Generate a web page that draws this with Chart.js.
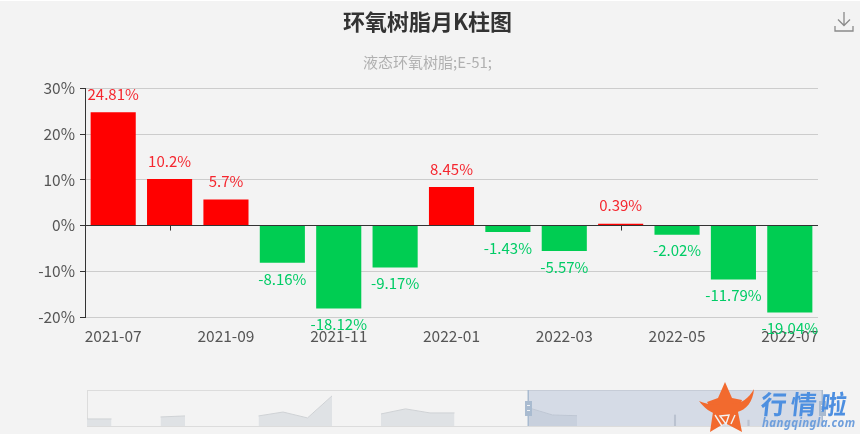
<!DOCTYPE html>
<html>
<head>
<meta charset="utf-8">
<title>环氧树脂月K柱图</title>
<script src="https://cdn.jsdelivr.net/npm/chart.js@4/dist/chart.umd.min.js"></script>
<style>
  html, body { margin: 0; padding: 0; background: #fff; width: 865px; height: 438px; overflow: hidden; }
  #panel { position: absolute; left: 0; top: 1px; width: 860px; height: 433px; background: #f3f3f3; overflow: hidden; }
  #mainWrap { position: absolute; left: 0; top: 0; width: 855px; height: 354px; }
  #overviewWrap { position: absolute; left: 0; top: 375px; width: 860px; height: 58px; }
  #download { position: absolute; left: 834px; top: 10px; }
  #logo { position: absolute; left: 698px; top: 381px; }
  #brand { position: absolute; left: 761px; top: 387px; font: bold 26px "Noto Sans CJK SC"; color: #4d8fe0; letter-spacing: 4px; line-height: 30px; transform: skewX(-6deg); }
  #brandUrl { position: absolute; left: 762px; top: 414px; font: italic bold 11.5px "Noto Sans"; color: #6f9fdc; line-height: 16px; letter-spacing: .4px; }
</style>
</head>
<body>
<div id="panel">
  <div id="mainWrap"><canvas id="mainChart"></canvas></div>
  <div id="overviewWrap"><canvas id="overviewChart"></canvas></div>
  <svg id="download" width="20" height="22" viewBox="0 0 20 22" fill="none" stroke="#8a8a8a" stroke-width="1.3">
    <path d="M10 1V14M4 8.5L10 14.5L16 8.5M1 15V20H19V15"/>
  </svg>
  <svg id="logo" width="60" height="52" viewBox="0 0 60 52">
    <path d="M27 0L34 16L44 18L40 30L44 50L27 41L12 50L15 30L9 20L20 16Z" fill="#f26a2e"/>
    <path d="M1 19C8 22 14 23 21 22L34 22C43 22 51 16 56 7C55 20 48 28 39 30L35 33L21 33C13 31 6 26 1 19Z" fill="#f26a2e"/>
    <path d="M17 33L24 44M37 33L33 42M22 34L31 33L28 42Z" fill="none" stroke="#f3f3f3" stroke-width="1.4"/>
  </svg>
  <div id="brand">行情啦</div>
  <div id="brandUrl">hangqingla.com</div>
</div>
<script>
const months = ["2021-07", "2021-08", "2021-09", "2021-10", "2021-11", "2021-12", "2022-01", "2022-02", "2022-03", "2022-04", "2022-05", "2022-06", "2022-07"];
const changes = [24.81, 10.2, 5.7, -8.16, -18.12, -9.17, 8.45, -1.43, -5.57, 0.39, -2.02, -11.79, -19.04];

const overviewMonths = ["2020-01", "2020-02", "2020-03", "2020-04", "2020-05", "2020-06", "2020-07", "2020-08", "2020-09", "2020-10", "2020-11", "2020-12", "2021-01", "2021-02", "2021-03", "2021-04", "2021-05", "2021-06", "2021-07", "2021-08", "2021-09", "2021-10", "2021-11", "2021-12", "2022-01", "2022-02", "2022-03", "2022-04", "2022-05", "2022-06", "2022-07"];
const overviewArea = [9.6, 9.6, null, 12.3, 13.7, null, null, 13.7, 19, 11, 41, null, 16.4, 23.3, 17.8, 17.8, null, null, 25, 15, 14, null, null, null, null, null, null, null, null, null, null];
const overviewSpikes = [null, null, null, null, null, null, null, null, null, null, null, null, null, null, null, null, null, null, null, null, null, null, null, null, 15, null, null, 8, null, null, null];
const selectedFrom = 18;
const selectedTo = 30;

const RED = "#ff0000";
const GREEN = "#00cd52";
const CJK = '"Noto Sans CJK SC", "Noto Sans", sans-serif';

Chart.defaults.animation = false;

// value labels above/below the bars, and the odd-month ticks on the zero line
const barLabels = {
  id: "barLabels",
  beforeDatasetsDraw(chart) {
    const { ctx, scales } = chart;
    const zero = scales.y.getPixelForValue(0);
    ctx.save();
    ctx.strokeStyle = "#333";
    ctx.lineWidth = 1;
    months.forEach((m, i) => {
      if (i % 2 === 1) {
        const x = Math.round(scales.x.getPixelForValue(i)) + 0.5;
        ctx.beginPath();
        ctx.moveTo(x, zero);
        ctx.lineTo(x, zero + 5);
        ctx.stroke();
      }
    });
    ctx.restore();
  },
  afterDraw(chart) {
    const { ctx } = chart;
    const bars = chart.getDatasetMeta(0).data;
    ctx.save();
    ctx.font = "15px " + CJK;
    ctx.textAlign = "center";
    ctx.textBaseline = "middle";
    changes.forEach((v, i) => {
      ctx.fillStyle = v >= 0 ? "#f5262e" : "#00cc66";
      const y = v >= 0 ? bars[i].y - 18 : bars[i].y + 16;
      ctx.fillText(v + "%", bars[i].x, y);
    });
    ctx.restore();
  }
};

new Chart(document.getElementById("mainChart"), {
  type: "bar",
  data: {
    labels: months,
    datasets: [{
      data: changes,
      yAxisID: "y",
      backgroundColor: changes.map((v) => (v >= 0 ? RED : GREEN)),
      categoryPercentage: 0.8,
      barPercentage: 1
    }]
  },
  options: {
    responsive: true,
    maintainAspectRatio: false,
    plugins: {
      legend: { display: false },
      tooltip: { enabled: false },
      title: {
        display: true,
        text: "环氧树脂月K柱图",
        color: "#333",
        font: { family: CJK, size: 22, weight: "bold" },
        padding: { top: 7, bottom: 19 }
      },
      subtitle: {
        display: true,
        text: "液态环氧树脂;E-51;",
        color: "#b0b0b0",
        font: { family: CJK, size: 15 },
        padding: { top: 0, bottom: 17 }
      }
    },
    scales: {
      x: {
        grid: { display: false },
        border: { display: false },
        afterFit(scale) { scale.height = 38; },
        ticks: {
          autoSkip: false,
          maxRotation: 0,
          color: "#555",
          padding: 2,
          font: { family: CJK, size: 15.5 },
          callback(value, index) {
            return index % 2 === 0 ? months[index] : "";
          }
        }
      },
      y: {
        min: -20,
        max: 30,
        afterFit(scale) { scale.width = 85; },
        border: { display: true, color: "#333" },
        grid: {
          color: (c) => (c.tick.value === 0 ? "#333" : "#cccccc"),
          tickColor: "#333",
          tickLength: 5
        },
        ticks: {
          stepSize: 10,
          color: "#555",
          padding: 5,
          font: { family: CJK, size: 15.5 },
          callback: (v) => v + "%"
        }
      },
      // empty axis: keeps the right margin without moving the centred title
      rightGap: {
        position: "right",
        afterFit(scale) { scale.width = 37; },
        grid: { display: false },
        border: { display: false },
        ticks: { display: false }
      }
    }
  },
  plugins: [barLabels]
});

// frame behind the overview, selected window and its two handles on top
const overviewWindow = {
  id: "overviewWindow",
  beforeDatasetsDraw(chart) {
    const { ctx, chartArea: a } = chart;
    ctx.save();
    ctx.strokeStyle = "#dcdcdc";
    ctx.lineWidth = 1;
    ctx.strokeRect(a.left + 0.5, a.top + 0.5, a.right - a.left, a.bottom - a.top);
    ctx.restore();
  },
  afterDatasetsDraw(chart) {
    const { ctx, chartArea: a, scales } = chart;
    const x0 = scales.x.getPixelForValue(selectedFrom);
    const x1 = scales.x.getPixelForValue(selectedTo);
    const mid = (a.top + a.bottom) / 2;
    ctx.save();
    ctx.fillStyle = "rgba(160,178,208,0.36)";
    ctx.fillRect(x0, a.top, x1 - x0, a.bottom - a.top);
    [x0, x1].forEach((x) => {
      ctx.fillStyle = "#a9bbd0";
      ctx.fillRect(x - 0.5, a.top, 1.5, a.bottom - a.top);
      ctx.fillRect(x - 3, mid - 7, 7, 15);
      ctx.fillStyle = "#eef1f5";
      ctx.fillRect(x - 1, mid - 3, 3, 1);
      ctx.fillRect(x - 1, mid + 2, 3, 1);
    });
    ctx.restore();
  }
};

new Chart(document.getElementById("overviewChart"), {
  data: {
    labels: overviewMonths,
    datasets: [
      {
        type: "line",
        data: overviewArea,
        borderColor: "#cfd2d5",
        borderWidth: 1,
        backgroundColor: "#dfe2e5",
        fill: "origin",
        pointRadius: 0,
        tension: 0,
        spanGaps: false
      },
      {
        type: "bar",
        data: overviewSpikes,
        backgroundColor: "#c9ccd0",
        barThickness: 1.5
      }
    ]
  },
  options: {
    responsive: true,
    maintainAspectRatio: false,
    layout: { padding: { left: 87, right: 38, top: 14, bottom: 8 } },
    plugins: { legend: { display: false }, tooltip: { enabled: false } },
    scales: {
      x: { display: false, offset: false },
      y: { display: false, min: 0, max: 49 }
    }
  },
  plugins: [overviewWindow]
});
</script>
</body>
</html>
